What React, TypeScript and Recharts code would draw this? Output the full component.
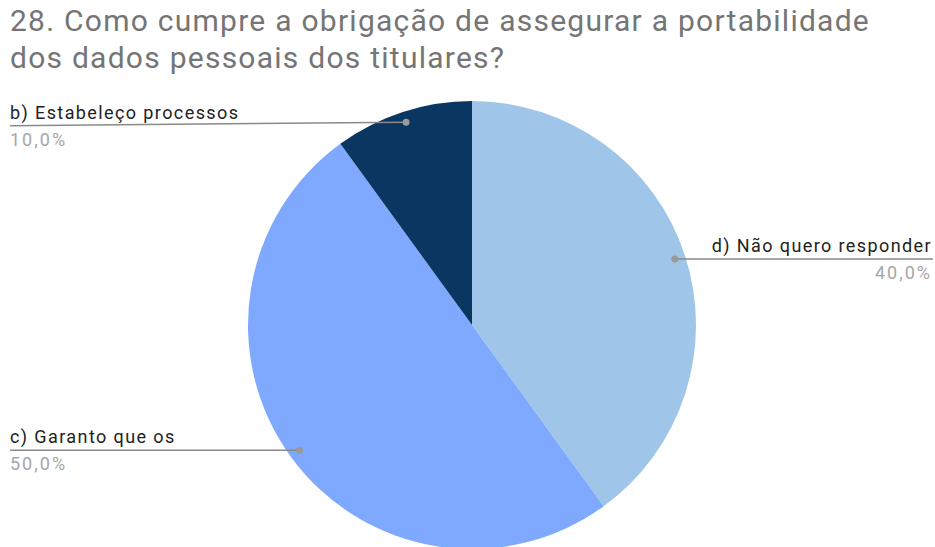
import React from "react";
import { PieChart, Pie, Cell } from "recharts";

const titleLines = [
  "28. Como cumpre a obrigação de assegurar a portabilidade",
  "dos dados pessoais dos titulares?",
];
const categories = ["d) Não quero responder", "c) Garanto que os", "b) Estabeleço processos"];
const values = [4, 5, 1];
const colors = ["#9fc5e8", "#7ea9fe", "#0a3762"];

const data = categories.map((name, i) => ({ name, value: values[i] }));

const RADIAN = Math.PI / 180;
const W = 935;
const H = 547;

const renderLabel = (props: any) => {
  const { cx, cy, midAngle, outerRadius, percent, name } = props;
  const r = outerRadius * 0.952;
  const x = cx + r * Math.cos(-midAngle * RADIAN);
  const y = cy + r * Math.sin(-midAngle * RADIAN);
  const right = x > cx;
  const top = y < cy - outerRadius * 0.6;
  const endX = right ? W - 2 : 10;
  const endY = top ? y + 3.5 : y;
  const textX = right ? W - 3 : 10;
  const anchor = right ? "end" : "start";
  const pct = (percent * 100).toFixed(1).replace(".", ",") + "%";
  return (
    <g>
      <line x1={x} y1={y} x2={endX} y2={endY} stroke="#8a8a8a" strokeWidth={1.5} />
      <circle cx={x} cy={y} r={3.5} fill="#9a9a9a" />
      <text x={textX} y={endY - 7} textAnchor={anchor} fill="#222222" fontSize={18} fontFamily="Roboto" letterSpacing={1.4}>
        {name}
      </text>
      <text x={textX} y={endY + 20} textAnchor={anchor} fill="#a6a6a6" fontSize={18} fontFamily="Roboto" letterSpacing={2}>
        {pct}
      </text>
    </g>
  );
};

export default function App() {
  return (
    <div style={{ position: "absolute", left: 0, top: 0, width: W, height: H, background: "#fff", overflow: "hidden" }}>
      <div
        style={{
          position: "absolute",
          left: 10,
          top: 2,
          fontFamily: "Roboto",
          fontSize: 30,
          lineHeight: "37px",
          letterSpacing: 1.25,
          color: "#757575",
          whiteSpace: "nowrap",
        }}
      >
        {titleLines.map((t) => (
          <div key={t}>{t}</div>
        ))}
      </div>
      <div style={{ position: "absolute", left: 0, top: 0 }}>
        <PieChart width={W} height={H} margin={{ top: 0, right: 0, bottom: 0, left: 0 }}>
          <Pie
            data={data}
            dataKey="value"
            nameKey="name"
            cx={472}
            cy={325}
            outerRadius={224}
            startAngle={90}
            endAngle={-270}
            stroke="none"
            label={renderLabel}
            labelLine={false}
            isAnimationActive={false}
          >
            {data.map((d, i) => (
              <Cell key={d.name} fill={colors[i]} />
            ))}
          </Pie>
        </PieChart>
      </div>
    </div>
  );
}
